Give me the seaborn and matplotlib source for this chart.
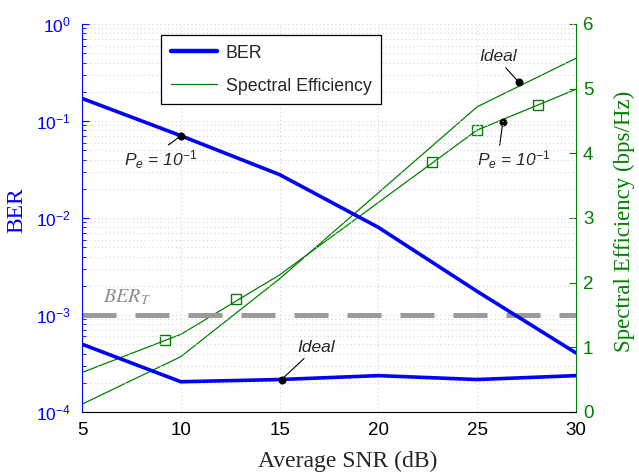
import numpy as np
import pandas as pd
import matplotlib
matplotlib.use("Agg")
import matplotlib.pyplot as plt
from matplotlib.lines import Line2D
import seaborn as sns

# ---------------- data ----------------
snr = [5, 10, 15, 20, 25, 30]
ber_pe = [0.171, 0.0705, 0.028, 0.008, 0.00175, 0.000406]      # BER, Pe = 1e-1
ber_ideal = [5.0e-4, 2.05e-4, 2.16e-4, 2.37e-4, 2.16e-4, 2.37e-4]  # BER, ideal
se_pe = [0.61, 1.20, 2.12, 3.24, 4.36, 4.99]                   # SE, Pe = 1e-1
se_ideal = [0.12, 0.855, 2.06, 3.39, 4.72, 5.47]               # SE, ideal
marker_snr = [9.2, 12.8, 22.7, 25.0, 28.1]
marker_se = [1.11, 1.74, 3.86, 4.36, 4.75]
ber_target = 1e-3

# annotation points
ber_dot_snr = [10.0, 15.1]
ber_dot_val = [0.0705, 2.16e-4]
se_dot_snr = [27.1, 26.3]
se_dot_val = [5.10, 4.49]

xticks = [5, 10, 15, 20, 25, 30]
se_ticks = [0, 1, 2, 3, 4, 5, 6]

BLUE = "#0000ff"
GREEN = "#008000"

sns.set_style("white")
plt.rcParams["font.family"] = ["Liberation Sans", "DejaVu Sans"]
plt.rcParams["mathtext.fontset"] = "custom"
plt.rcParams["mathtext.rm"] = "Liberation Sans"
plt.rcParams["mathtext.it"] = "Liberation Sans:italic"
plt.rcParams["mathtext.bf"] = "Liberation Sans:bold"

fig = plt.figure(figsize=(6.39, 4.76), dpi=100)
ax = fig.add_axes([0.1283, 0.1345, 0.7731, 0.8151])
ax2 = ax.twinx()
ax.set_zorder(ax2.get_zorder() + 1)
ax.patch.set_visible(False)

# ---------------- left axis: BER ----------------
ax.set_yscale("log")
ax.axhline(ber_target, color="#9a9a9a", lw=3.6, dashes=(6.8, 3.8), zorder=2)
sns.lineplot(x=snr, y=ber_pe, ax=ax, color=BLUE, lw=2.6, zorder=3)
sns.lineplot(x=snr, y=ber_ideal, ax=ax, color=BLUE, lw=2.6, zorder=3)
sns.scatterplot(x=ber_dot_snr, y=ber_dot_val, ax=ax, color="black", s=28,
                edgecolor="black", zorder=5)

ax.set_xlim(5, 30)
ax.set_ylim(1e-4, 1)
ax.set_xticks(xticks)
ax.set_axisbelow(True)
grid_kw = dict(color="#d4d4d4", lw=0.8, dashes=(1, 2.5))
ax.grid(which="major", axis="x", **grid_kw)
ax.grid(which="both", axis="y", **grid_kw)

for s in ["top", "right"]:
    ax.spines[s].set_visible(False)
ax.spines["left"].set_color(BLUE)
ax.spines["bottom"].set_color("black")
ax.tick_params(axis="y", which="both", direction="in", colors=BLUE, labelsize=12.5, pad=8)
ax.tick_params(axis="y", which="major", length=5)
ax.tick_params(axis="y", which="minor", length=3)
ax.tick_params(axis="x", which="both", direction="in", colors="black", labelsize=13.5,
               length=5, pad=7, top=False)

ax.set_xlabel("Average SNR (dB)", family="Liberation Serif", fontsize=17)
ax.xaxis.set_label_coords(0.538, -0.100)
ax.set_ylabel("BER", family="Liberation Serif", fontsize=17, color=BLUE, va="center")
ax.yaxis.set_label_coords(-0.131, 0.521)

ax.text(7.28, 1.54e-3, r"$BER_T$", color="#8c8c8c", fontsize=14.5,
        math_fontfamily="stix", ha="center", va="center")

arrow = dict(arrowstyle="-", color="black", lw=0.8, shrinkA=0, shrinkB=2)
ax.annotate(r"$P_e$ = 10$^{-1}$", xy=(ber_dot_snr[0], ber_dot_val[0]), xytext=(9.0, 0.040),
            ha="center", va="center", fontsize=12.5, style="italic",
            arrowprops=dict(arrow, relpos=(0.5, 0.9)))
ax.annotate("Ideal", xy=(ber_dot_snr[1], ber_dot_val[1]), xytext=(16.84, 4.6e-4),
            ha="center", va="center", fontsize=12.5, style="italic",
            arrowprops=dict(arrow, relpos=(0.3, 0.05)))

# ---------------- right axis: spectral efficiency ----------------
sns.lineplot(x=snr, y=se_ideal, ax=ax2, color=GREEN, lw=0.9)
sns.lineplot(x=snr, y=se_pe, ax=ax2, color=GREEN, lw=0.9)
sns.lineplot(x=marker_snr, y=marker_se, ax=ax2, color=GREEN, lw=0, marker="s",
             markersize=7, markerfacecolor="none", markeredgecolor=GREEN, markeredgewidth=1.0)
sns.scatterplot(x=se_dot_snr, y=se_dot_val, ax=ax2, color="black", s=28,
                edgecolor="black", zorder=5)
ax2.set_ylim(0, 6)
ax2.set_yticks(se_ticks)
for s in ["top", "left", "bottom"]:
    ax2.spines[s].set_visible(False)
ax2.spines["right"].set_color(GREEN)
ax2.tick_params(axis="y", direction="in", colors=GREEN, labelsize=13.5, length=5, pad=5)
ax2.grid(False)
ax2.set_ylabel("Spectral Efficiency (bps/Hz)", family="Liberation Serif", fontsize=16.5,
               color=GREEN, rotation=90, va="center")
ax2.yaxis.set_label_coords(1.098, 0.49)

ax2.annotate("Ideal", xy=(se_dot_snr[0], se_dot_val[0]), xytext=(26.05, 5.49),
             ha="center", va="center", fontsize=12.5, style="italic",
             arrowprops=dict(arrow, relpos=(0.63, 0.0)))
ax2.annotate(r"$P_e$ = 10$^{-1}$", xy=(se_dot_snr[1], se_dot_val[1]), xytext=(26.86, 3.9),
             ha="center", va="center", fontsize=12.5, style="italic",
             arrowprops=dict(arrow, relpos=(0.3, 1.0)))

# ---------------- legend ----------------
handles = [Line2D([], [], color=BLUE, lw=3.2), Line2D([], [], color=GREEN, lw=0.9)]
leg = ax.legend(handles, ["BER", "Spectral Efficiency"], loc="upper left",
                bbox_to_anchor=(0.16, 0.972), borderaxespad=0, fontsize=12.8,
                handlelength=2.6, handletextpad=0.5, labelspacing=0.9,
                borderpad=0.55, fancybox=False, framealpha=1, edgecolor="black")
leg.get_frame().set_linewidth(0.9)

fig.savefig("out.png", dpi=100)
